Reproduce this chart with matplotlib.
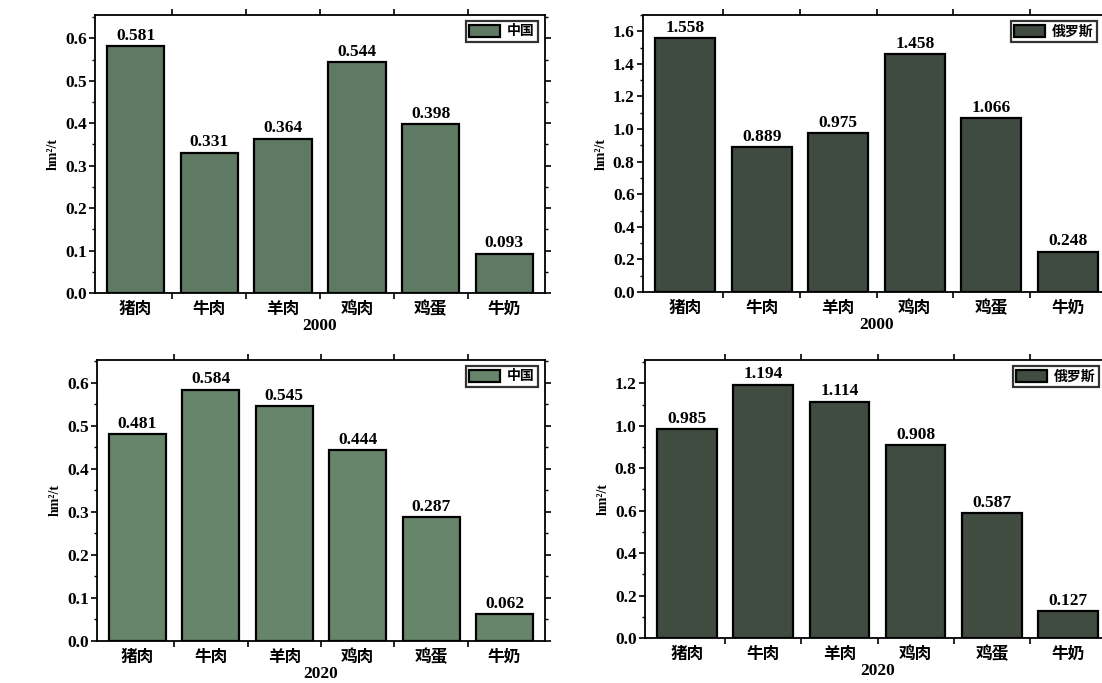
import numpy as np
import matplotlib
matplotlib.use('Agg')
import matplotlib.pyplot as plt
from matplotlib.ticker import MultipleLocator, FixedLocator, NullFormatter

plt.rcParams['font.family'] = ['Liberation Serif', 'Noto Sans CJK SC']
plt.rcParams['font.weight'] = 'bold'
plt.rcParams['axes.labelweight'] = 'bold'

categories = ['猪肉', '牛肉', '羊肉', '鸡肉', '鸡蛋', '牛奶']
china_2000 = [0.581, 0.331, 0.364, 0.544, 0.398, 0.093]
russia_2000 = [1.558, 0.889, 0.975, 1.458, 1.066, 0.248]
china_2020 = [0.481, 0.584, 0.545, 0.444, 0.287, 0.062]
russia_2020 = [0.985, 1.194, 1.114, 0.908, 0.587, 0.127]

panels = [
    # (values, legend, year, color, ylim top, major, minor,
    #  rect in px: left, top, right, bottom, legend right edge px)
    (china_2000, '中国', '2000', '#5f7a63', 0.655, 0.1, 0.05, (95, 15, 545, 293, 538)),
    (russia_2000, '俄罗斯', '2000', '#3f4b40', 1.70, 0.2, 0.1, (643, 15, 1110, 292, 1097)),
    (china_2020, '中国', '2020', '#67856a', 0.653, 0.1, 0.05, (97, 360, 545, 641, 538)),
    (russia_2020, '俄罗斯', '2020', '#414c41', 1.31, 0.2, 0.1, (645, 360, 1110, 638, 1099)),
]

W, H = 1102, 683
fig = plt.figure(figsize=(W / 100, H / 100), dpi=100)

x = np.arange(len(categories))
for vals, lab, year, color, ytop, major, minor, (l, t, r, b, legr) in panels:
    ax = fig.add_axes([l / W, 1 - b / H, (r - l) / W, (b - t) / H])
    ax.bar(x, vals, width=0.78, color=color, edgecolor='black', linewidth=1.6, label=lab)
    for xi, v in zip(x, vals):
        ax.text(xi, v + ytop * 0.008, f'{v:.3f}', ha='center', va='bottom',
                fontsize=12.5, fontweight='bold', family='Liberation Serif')
    ax.set_xlim(-0.55, 5.55)
    ax.set_ylim(0, ytop)
    ax.yaxis.set_major_locator(MultipleLocator(major))
    ax.yaxis.set_minor_locator(MultipleLocator(minor))
    ax.yaxis.set_major_formatter(plt.FuncFormatter(lambda v, p: f'{v:.1f}'))
    # Origin-style x ticks: marks between categories, labels at centers
    ax.xaxis.set_major_locator(FixedLocator(x[:-1] + 0.5))
    ax.xaxis.set_major_formatter(NullFormatter())
    ax.xaxis.set_minor_locator(FixedLocator(x))
    ax.set_xticklabels(categories, minor=True)
    ax.tick_params(axis='x', which='minor', length=0, pad=5, labelsize=12)
    ax.tick_params(axis='x', which='major', direction='out', length=4, width=1.2, top=True)
    ax.tick_params(axis='y', which='major', direction='out', length=4, width=1.2,
                   right=True, labelsize=12.5, pad=2)
    ax.tick_params(axis='y', which='minor', direction='out', length=2.5, width=1.0, right=True)
    for lbl in ax.get_yticklabels():
        lbl.set_fontweight('bold')
    for lbl in ax.get_xticklabels(minor=True):
        lbl.set_fontweight('bold')
        lbl.set_family('Noto Sans CJK SC')
    for sp in ax.spines.values():
        sp.set_linewidth(1.3)
    ax.set_xlabel(year, fontsize=12.5, fontweight='bold', labelpad=0)
    ax.set_ylabel('hm²/t', fontsize=10, fontweight='bold', labelpad=4)
    leg = ax.legend(loc='upper right', bbox_to_anchor=((legr - l) / (r - l), 1 - 6 / (b - t)),
                    borderaxespad=0, frameon=True, fancybox=False,
                    handlelength=2.2, handleheight=1.0, borderpad=0.25,
                    handletextpad=0.5,
                    prop={'family': 'Noto Sans CJK SC', 'weight': 'bold', 'size': 10})
    leg.get_frame().set_edgecolor('black')
    leg.get_frame().set_linewidth(1.6)

fig.savefig('out.png', dpi=100)
